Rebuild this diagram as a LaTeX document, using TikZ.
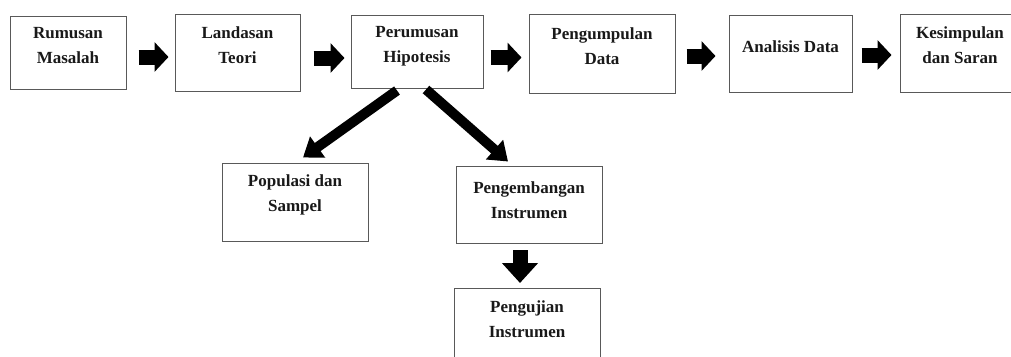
\documentclass[tikz,border=0pt]{standalone}
\usepackage{fontspec}
\setmainfont{Liberation Serif}
\usetikzlibrary{arrows.meta}
\begin{document}
\begin{tikzpicture}[x=1pt,y=-1pt,
  box/.style={draw=black!65, line width=1pt, inner sep=0pt, fill=white},
  lbl/.style={font=\bfseries\fontsize{17}{25}\selectfont, align=center, inner sep=0pt, text=black!90},
  blk/.style={draw=black, line width=15pt, -{Triangle[length=14pt 0 0, width=29pt 0 0]}},
  diag/.style={draw=black, line width=10pt, -{Triangle[length=18pt 0 0, width=25pt 0 0]}},
  downarr/.style={draw=black, line width=15pt, -{Triangle[length=20pt 0 0, width=35pt 0 0]}}
]
\clip (0,0) rectangle (1011,356);
\fill[white] (0,0) rectangle (1011,356);
% top row
\node[box, minimum width=116pt, minimum height=73pt] (rm) at (68,52.5) {};
\node[lbl] (rmt) at (68,45.5) {Rumusan\\Masalah};
\node[box, minimum width=125pt, minimum height=77pt] (lt) at (237.5,52.5) {};
\node[lbl] (ltt) at (237.5,45.5) {Landasan\\Teori};
\node[box, minimum width=132pt, minimum height=73pt] (ph) at (417,51.5) {};
\node[lbl] (pht) at (417,46) {Perumusan\\Hipotesis};
\node[box, minimum width=146pt, minimum height=79pt] (pd) at (602,53.5) {};
\node[lbl] (pdt) at (602,46) {Pengumpulan\\Data};
\node[box, minimum width=123pt, minimum height=77pt] (ad) at (790.5,53.5) {};
\node[lbl] (adt) at (790.5,47) {Analisis Data};
\node[box, minimum width=120pt, minimum height=78pt] (ks) at (960,53) {};
\node[lbl] (kst) at (960,45.5) {Kesimpulan\\dan Saran};
% lower
\node[box, minimum width=146pt, minimum height=78pt] (ps) at (295,202) {};
\node[lbl] (pst) at (295,194.5) {Populasi dan\\Sampel};
\node[box, minimum width=146pt, minimum height=77pt] (pi) at (529,204.5) {};
\node[lbl] (pit) at (529,200) {Pengembangan\\Instrumen};
\node[box, minimum width=146pt, minimum height=80pt] (pu) at (527,328) {};
\node[lbl] (put) at (527,319.5) {Pengujian\\Instrumen};
% block arrows
\draw[blk, shorten <=12pt, shorten >=6pt] (rm.east |- 0,57) -- (lt.west |- 0,57);
\draw[blk, shorten <=13pt, shorten >=6pt] (lt.east |- 0,58) -- (ph.west |- 0,58);
\draw[blk, shorten <=7pt, shorten >=7pt] (ph.east |- 0,57.5) -- (pd.west |- 0,57.5);
\draw[blk, shorten <=11pt, shorten >=13pt] (pd.east |- 0,56) -- (ad.west |- 0,56);
\draw[blk, shorten <=9pt, shorten >=8pt] (ad.east |- 0,55) -- (ks.west |- 0,55);
% diagonal arrows
\draw[diag] ([xshift=-20pt,yshift=-2pt]ph.south) -- ([xshift=8pt,yshift=5pt]ps.north);
\draw[diag] ([xshift=9pt,yshift=-1pt]ph.south) -- ([xshift=-21pt,yshift=4pt]pi.north);
% down arrow
\draw[downarr, shorten <=7pt, shorten >=5pt] (520,243) -- (520,288);
\end{tikzpicture}
\end{document}
